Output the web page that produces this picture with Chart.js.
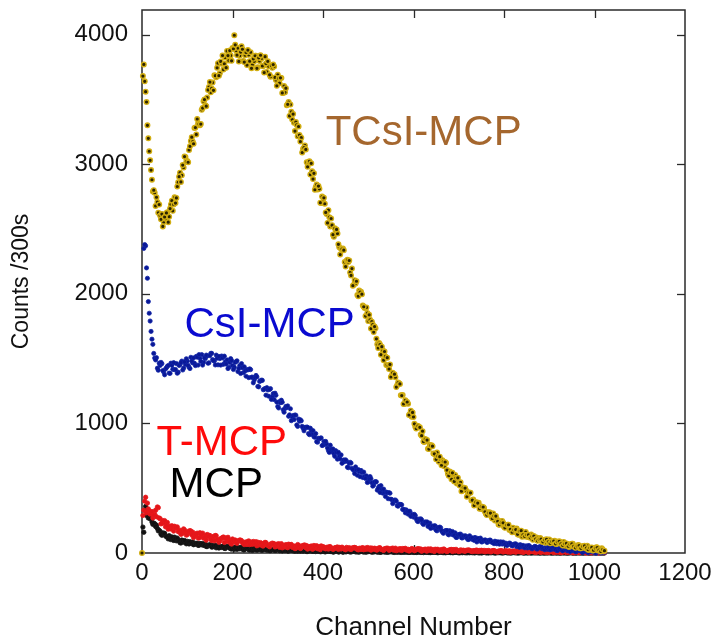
<!DOCTYPE html>
<html><head><meta charset="utf-8">
<script src="https://cdn.jsdelivr.net/npm/chart.js@4.4.1/dist/chart.umd.min.js"></script>
<style>html,body{margin:0;padding:0;background:#fff}canvas{display:block;background:#fff}</style>
</head><body>
<canvas id="c" width="720" height="643"></canvas>
<script>
// channel numbers sampled (every 4th channel, and the channels half-way between)
const channels = [
0,4,8,12,16,20,24,28,32,36,40,44,48,52,56,60,
64,68,72,76,80,84,88,92,96,100,104,108,112,116,120,124,
128,132,136,140,144,148,152,156,160,164,168,172,176,180,184,188,
192,196,200,204,208,212,216,220,224,228,232,236,240,244,248,252,
256,260,264,268,272,276,280,284,288,292,296,300,304,308,312,316,
320,324,328,332,336,340,344,348,352,356,360,364,368,372,376,380,
384,388,392,396,400,404,408,412,416,420,424,428,432,436,440,444,
448,452,456,460,464,468,472,476,480,484,488,492,496,500,504,508,
512,516,520,524,528,532,536,540,544,548,552,556,560,564,568,572,
576,580,584,588,592,596,600,604,608,612,616,620,624,628,632,636,
640,644,648,652,656,660,664,668,672,676,680,684,688,692,696,700,
704,708,712,716,720,724,728,732,736,740,744,748,752,756,760,764,
768,772,776,780,784,788,792,796,800,804,808,812,816,820,824,828,
832,836,840,844,848,852,856,860,864,868,872,876,880,884,888,892,
896,900,904,908,912,916,920,924,928,932,936,940,944,948,952,956,
960,964,968,972,976,980,984,988,992,996,1000,1004,1008,1012,1016,1020];

const channelsMid = [
2,6,10,14,18,22,26,30,34,38,42,46,50,54,58,62,
66,70,74,78,82,86,90,94,98,102,106,110,114,118,122,126,
130,134,138,142,146,150,154,158,162,166,170,174,178,182,186,190,
194,198,202,206,210,214,218,222,226,230,234,238,242,246,250,254,
258,262,266,270,274,278,282,286,290,294,298,302,306,310,314,318,
322,326,330,334,338,342,346,350,354,358,362,366,370,374,378,382,
386,390,394,398,402,406,410,414,418,422,426,430,434,438,442,446,
450,454,458,462,466,470,474,478,482,486,490,494,498,502,506,510,
514,518,522,526,530,534,538,542,546,550,554,558,562,566,570,574,
578,582,586,590,594,598,602,606,610,614,618,622,626,630,634,638,
642,646,650,654,658,662,666,670,674,678,682,686,690,694,698,702,
706,710,714,718,722,726,730,734,738,742,746,750,754,758,762,766,
770,774,778,782,786,790,794,798,802,806,810,814,818,822,826,830,
834,838,842,846,850,854,858,862,866,870,874,878,882,886,890,894,
898,902,906,910,914,918,922,926,930,934,938,942,946,950,954,958,
962,966,970,974,978,982,986,990,994,998,1002,1006,1010,1014,1018,1022];

// TCsI-MCP counts
const tcsiMcp = [
0,3770,3560,3300,3100,2955,2790,2780,2745,2625,2605,2615,2555,2580,2630,2595,
2690,2640,2745,2740,2860,2935,2915,2975,3055,3025,3110,3180,3175,3280,3230,3315,
3300,3420,3485,3455,3515,3595,3555,3630,3686,3672,3780,3702,3776,3730,3824,3874,
3800,3839,3897,3995,3877,3896,3837,3910,3797,3841,3765,3844,3864,3770,3794,3837,
3748,3797,3816,3757,3830,3712,3756,3675,3744,3754,3650,3690,3625,3665,3550,3555,
3455,3480,3460,3345,3320,3325,3215,3225,3205,3120,3145,3015,3015,2920,2945,2930,
2825,2805,2810,2700,2710,2695,2615,2645,2520,2530,2440,2475,2465,2360,2345,2350,
2245,2255,2245,2165,2195,2070,2080,1990,2025,2015,1910,1890,1895,1790,1800,1785,
1705,1735,1610,1620,1530,1565,1555,1450,1445,1455,1370,1372,1356,1295,1310,1217,
1219,1150,1164,1152,1072,1051,1050,975,982,971,915,940,857,864,805,834,
832,767,761,775,705,722,716,670,695,612,629,570,604,602,537,536,
545,480,495,485,447,465,405,413,370,390,387,343,337,348,302,315,
315,282,305,250,263,220,245,247,203,207,218,177,190,195,162,190,
140,158,125,155,162,123,127,143,102,118,119,100,115,86,98,79,
98,104,80,83,94,69,81,85,69,85,55,66,47,65,71,47,
50,61,37,49,53,37,55,26,38,19,38,44,20,25,36,13];
const tcsiMcpMid = [
3680,3640,3480,3200,3030,2880,2800,2678,2708,2689,2575,2520,2593,2624,2553,2658,
2719,2690,2700,2828,2904,2863,2993,3059,3020,3015,3138,3209,3158,3283,3349,3310,
3310,3433,3499,3448,3573,3634,3585,3570,3683,3744,3683,3793,3839,3775,3745,3838,
3877,3798,3891,3921,3842,3793,3865,3887,3788,3863,3881,3795,3740,3813,3837,3740,
3821,3841,3758,3707,3778,3794,3690,3761,3769,3670,3605,3663,3667,3550,3603,3587,
3462,3373,3405,3387,3256,3303,3291,3175,3090,3128,3114,2980,3023,3007,2885,2803,
2843,2831,2703,2751,2741,2628,2547,2591,2581,2456,2505,2497,2382,2303,2345,2337,
2210,2263,2257,2142,2063,2105,2097,1982,2013,1997,1900,1828,1852,1838,1732,1763,
1747,1653,1582,1608,1592,1488,1517,1507,1420,1358,1390,1380,1280,1315,1305,1215,
1150,1178,1165,1065,1097,1085,997,960,980,970,905,860,879,871,802,828,
824,765,723,747,743,677,706,702,640,597,622,619,552,580,580,520,
477,505,501,434,466,464,408,367,392,385,342,359,355,318,293,309,
308,267,286,285,245,218,234,233,194,216,218,183,160,179,181,144,
169,172,141,128,141,140,117,129,131,108,94,105,107,86,102,106,
87,75,89,92,71,86,90,71,58,71,74,52,67,71,52,40,
54,57,36,52,56,37,25,40,43,22,38,42,23,12,27,18];

// CsI-MCP counts
const csiMcp = [
null,2350,2370,2120,1850,1710,1610,1504,1507,1410,1447,1461,1396,1420,1440,1388,
1465,1417,1414,1462,1395,1452,1481,1426,1455,1480,1433,1510,1467,1464,1517,1450,
1502,1531,1471,1500,1520,1468,1540,1492,1482,1527,1452,1500,1520,1456,1475,1490,
1433,1500,1447,1434,1477,1400,1447,1461,1391,1405,1415,1353,1415,1357,1334,1370,
1285,1324,1334,1260,1270,1276,1210,1268,1206,1184,1217,1130,1169,1179,1105,1115,
1121,1055,1113,1051,1029,1063,977,1017,1020,963,969,972,921,963,915,897,
921,855,882,888,832,838,841,790,832,784,766,790,724,751,757,700,
706,709,658,700,654,638,664,600,629,637,582,590,595,548,590,542,
525,550,485,514,520,462,468,470,419,461,413,395,409,365,376,375,
336,335,333,300,322,290,277,289,248,262,264,229,233,235,205,231,
203,194,209,171,189,195,163,169,173,145,172,146,139,156,120,139,
146,116,124,130,104,133,108,102,120,85,106,115,86,95,98,83,
99,85,81,91,71,82,86,69,73,76,61,77,63,59,69,49,
60,64,47,51,54,39,56,43,40,51,32,44,49,33,38,42,
28,45,32,29,40,21,33,38,22,27,31,17,34,21,18,29,
10,22,27,11,16,20,6,23,11,8,20,1,14,19,4,9];
const csiMcpMid = [
null,2380,2200,1940,1790,1650,1540,1490,1426,1465,1471,1408,1375,1429,1447,1386,
1448,1469,1416,1387,1447,1469,1412,1475,1499,1448,1423,1481,1505,1446,1511,1531,
1478,1450,1507,1527,1464,1523,1541,1485,1451,1503,1517,1450,1505,1519,1458,1423,
1471,1485,1416,1471,1483,1424,1385,1429,1437,1364,1413,1421,1356,1313,1353,1359,
1282,1328,1332,1263,1218,1258,1262,1185,1230,1233,1164,1119,1159,1163,1086,1131,
1135,1066,1021,1061,1065,988,1034,1028,977,943,969,970,913,943,944,893,
859,885,886,829,860,861,810,776,802,803,746,776,777,726,692,718,
719,662,692,694,645,613,641,644,589,621,624,575,544,572,573,516,
548,549,500,467,492,493,436,465,466,415,381,407,401,361,375,371,
335,310,323,321,283,299,298,264,242,256,256,220,240,240,210,190,
208,210,176,196,200,170,152,170,174,140,162,166,138,120,140,144,
118,132,133,116,104,116,117,98,110,113,96,86,98,101,82,96,
99,82,72,84,87,68,82,85,68,58,70,73,54,68,71,54,
44,56,59,40,54,57,41,32,45,49,31,46,50,34,25,38,
42,24,39,43,27,18,31,35,17,32,36,20,11,24,28,10,
25,29,13,4,17,21,3,19,23,8,0,13,17,0,15,5];

// T-MCP counts
const tMcp = [
null,330,430,385,325,305,270,300,280,350,265,229,236,202,235,201,
185,201,206,195,165,176,148,186,156,143,161,169,161,132,144,117,
156,127,115,134,143,136,107,120,94,133,105,94,114,123,116,88,
101,75,108,88,80,93,100,95,75,84,66,93,74,67,80,87,
83,63,73,54,82,63,55,69,76,72,52,62,44,72,53,46,
61,68,64,44,54,36,65,46,39,53,61,57,37,48,30,58,
40,33,48,55,48,35,42,30,49,36,32,41,46,43,31,38,
29,43,33,30,38,41,40,30,36,27,41,31,28,36,39,38,
28,33,24,39,29,25,33,37,36,25,31,22,37,26,23,31,
34,33,23,29,19,34,24,21,28,32,31,20,26,17,31,21,
18,26,29,28,18,24,14,29,19,16,23,27,26,15,21,12,
24,17,15,20,22,21,15,18,13,22,15,13,18,20,18,13,
16,10,19,13,11,15,17,16,11,14,8,17,11,9,14,15,
14,9,12,7,16,9,7,12,14,13,8,11,6,15,8,6,
11,13,12,7,10,5,13,7,5,10,12,11,6,9,3,12,
6,4,9,11,10,4,7,2,11,5,3,8,9,8,3,6];
const tMcpMid = [
290,400,310,340,300,320,290,330,355,270,225,249,250,210,184,207,
210,169,196,201,166,145,171,177,138,167,173,140,119,147,153,116,
145,153,118,99,127,135,97,128,135,102,83,111,119,82,113,121,
88,69,95,100,75,94,99,79,66,83,89,65,84,89,69,56,
75,80,56,76,80,60,48,65,72,47,68,72,53,40,59,65,
41,62,66,47,34,53,60,35,56,61,41,30,48,54,31,51,
56,37,26,44,46,32,45,48,35,28,40,43,28,41,45,33,
25,37,41,27,39,43,31,24,36,39,25,38,42,29,22,34,
37,23,36,40,27,20,32,36,21,34,38,26,18,30,34,19,
32,36,24,16,28,32,18,30,34,22,14,26,30,15,28,32,
20,12,24,28,14,26,30,18,11,22,26,12,25,28,16,13,
20,22,13,21,23,15,11,18,21,11,19,21,14,9,16,19,
9,17,19,12,7,14,17,8,16,17,10,6,13,16,6,14,
16,9,5,12,14,5,13,15,8,4,11,14,5,12,14,7,
3,10,13,4,12,14,6,2,9,12,3,11,13,6,1,8,
11,2,10,12,5,0,7,10,1,9,11,4,0,6,9,3];

// MCP counts
const mcp = [
null,160,360,300,275,267,221,226,215,171,167,137,151,132,123,134,
103,118,122,94,101,80,100,85,80,90,70,81,85,67,72,59,
73,63,60,69,50,61,65,47,53,40,55,45,43,53,35,46,
51,34,40,28,43,34,32,42,25,37,42,25,32,20,35,28,
26,33,22,29,32,22,26,19,28,23,21,28,18,24,28,18,
22,15,25,19,18,25,14,21,25,14,19,12,21,16,15,21,
11,18,22,11,16,9,18,13,12,19,8,15,19,9,13,6,
16,11,14,9,12,14,9,11,8,12,10,12,8,11,13,8,
10,12,7,10,6,11,9,10,7,10,12,7,9,6,10,8,
9,6,9,11,6,8,5,9,7,8,5,8,10,5,7,4,
8,6,7,4,7,9,4,6,3,7,5,6,3,6,8,3,
5,2,6,4,5,2,5,7,2,4,1,5,3,4,2,5,
6,2,4,1,5,3,4,2,4,6,1,3,1,4,3,4,
1,3,5,1,3,0,4,2,3,1,3,5,0,2,0,3,
2,3,0,2,4,0,2,0,3,1,2,0,2,4,0,2,
0,3,1,2,0,2,3,0,1,0,2,1,2,0,2,1];
const mcpMid = [
200,330,290,270,265,240,230,205,190,175,145,155,152,126,109,123,
124,97,113,115,92,77,93,96,71,85,87,73,64,74,76,60,
71,73,59,50,60,62,46,57,60,47,38,48,52,36,48,51,
37,30,40,44,28,41,43,31,24,34,38,23,35,39,26,22,
29,32,22,29,31,24,19,25,28,19,26,28,20,16,23,26,
16,24,25,18,14,21,23,14,22,23,16,12,18,21,12,19,
21,14,10,16,19,10,17,19,12,8,14,17,8,16,17,10,
9,13,10,8,12,13,9,8,11,12,8,7,11,12,9,7,
10,11,8,6,10,10,7,6,9,10,7,5,9,9,6,5,
8,9,6,4,8,8,5,4,7,8,5,3,7,7,4,3,
6,7,4,2,6,6,3,2,5,6,3,2,5,5,3,1,
5,5,2,1,4,5,2,1,4,4,2,0,4,4,1,0,
3,4,1,0,3,3,1,0,3,3,1,0,2,3,1,0,
2,3,0,0,2,2,0,0,2,2,0,0,1,2,0,0,
1,2,0,0,1,1,0,0,1,1,0,0,1,1,0,0,
1,1,0,0,1,1,0,0,1,1,0,0,1,1,0,0];

const seriesNames = ['TCsI-MCP', 'CsI-MCP', 'T-MCP', 'MCP'];
const xTickValues = [0, 200, 400, 600, 800, 1000, 1200];
const yTickValues = [0, 1000, 2000, 3000, 4000];

const FONT = "'Liberation Sans', Arial, Helvetica, sans-serif";

function toPoints(xs, vals) {
  const pts = [];
  xs.forEach((c, i) => { if (vals[i] !== null && vals[i] !== undefined) pts.push({x: c, y: vals[i]}); });
  return pts;
}
function series(a, b) { return toPoints(channels, a).concat(toPoints(channelsMid, b)); }

const framePlugin = {
  id: 'frame',
  beforeDatasetsDraw(chart) {
    const {ctx, chartArea: a, scales: {x, y}} = chart;
    ctx.save();
    ctx.strokeStyle = '#2a2a2a';
    ctx.lineWidth = 1.5;
    ctx.strokeRect(a.left, a.top, a.right - a.left, a.bottom - a.top);
    ctx.lineWidth = 1.3;
    const L = 8;
    const seg = (x1, y1, x2, y2) => { ctx.beginPath(); ctx.moveTo(x1, y1); ctx.lineTo(x2, y2); ctx.stroke(); };
    x.ticks.forEach(t => {
      const px = Math.round(x.getPixelForValue(t.value)) + 0.5;
      if (px <= a.left + 2 || px >= a.right - 2) return;
      seg(px, a.bottom, px, a.bottom - L);
      seg(px, a.top, px, a.top + L);
    });
    y.ticks.forEach(t => {
      const py = Math.round(y.getPixelForValue(t.value)) + 0.5;
      if (py >= a.bottom - 2 || py <= a.top + 2) return;
      seg(a.left, py, a.left + L, py);
      seg(a.right, py, a.right - L, py);
    });
    ctx.restore();
  }
};

const textPlugin = {
  id: 'seriesText',
  afterDatasetsDraw(chart, args, opts) {
    const {ctx, scales: {x, y}} = chart;
    ctx.save();
    ctx.textAlign = 'left';
    ctx.textBaseline = 'alphabetic';
    opts.items.forEach(it => {
      ctx.font = `${it.size}px ${FONT}`;
      ctx.fillStyle = it.color;
      ctx.fillText(it.text, x.getPixelForValue(it.x), y.getPixelForValue(it.y));
    });
    ctx.restore();
  }
};

const pointStyle = (bg, border, r, bw) => ({
  showLine: false, pointRadius: r, pointBackgroundColor: bg, pointBorderColor: border,
  pointBorderWidth: bw, pointHoverRadius: r, clip: 6
});

new Chart(document.getElementById('c'), {
  type: 'scatter',
  data: {
    datasets: [
      Object.assign({label: seriesNames[0], data: series(tcsiMcp, tcsiMcpMid), order: 0}, pointStyle('#2b2300', '#d2ae12', 2.3, 1.4)),
      Object.assign({label: seriesNames[1], data: series(csiMcp, csiMcpMid), order: 1}, pointStyle('#0a1896', '#1226a8', 2.1, 0.8)),
      Object.assign({label: seriesNames[2], data: series(tMcp, tMcpMid), order: 2}, pointStyle('#e3161a', '#e8191c', 2.2, 0.8)),
      Object.assign({label: seriesNames[3], data: series(mcp, mcpMid), order: 3}, pointStyle('#111111', '#1a1a1a', 2.2, 0.8))
    ]
  },
  options: {
    responsive: false,
    animation: false,
    events: [],
    layout: {padding: {left: 0, right: 35, top: 10, bottom: 0}},
    plugins: {
      legend: {display: false},
      tooltip: {enabled: false},
      seriesText: {
        items: [
          {text: seriesNames[0], x: 406, y: 3150, color: '#a5672e', size: 42},
          {text: seriesNames[1], x: 94, y: 1667, color: '#0a0ad0', size: 42},
          {text: seriesNames[2], x: 32, y: 756, color: '#ff0a0a', size: 42},
          {text: seriesNames[3], x: 61, y: 432, color: '#000000', size: 42}
        ]
      }
    },
    scales: {
      x: {
        type: 'linear', position: 'bottom', min: 0, max: 1200,
        afterFit(s) { s.height = 90; s.paddingLeft = 0; s.paddingRight = 0; },
        afterBuildTicks(s) { s.ticks = xTickValues.map(v => ({value: v})); },
        grid: {display: false, drawTicks: false},
        border: {display: false},
        ticks: {padding: 6, color: '#111', font: {family: FONT, size: 24}, maxRotation: 0, autoSkip: false,
                callback: v => String(v)},
        title: {display: true, text: 'Channel Number', color: '#111', font: {family: FONT, size: 26}, padding: {top: 0, bottom: 0}}
      },
      y: {
        type: 'linear', position: 'left', min: 0, max: 4190,
        afterFit(s) { s.width = 142; s.paddingTop = 0; s.paddingBottom = 0; },
        afterBuildTicks(s) { s.ticks = yTickValues.map(v => ({value: v})); },
        grid: {display: false, drawTicks: false},
        border: {display: false},
        ticks: {padding: 14, color: '#111', font: {family: FONT, size: 24}, callback: v => String(v)},
        title: {display: true, text: 'Counts /300s', color: '#111', font: {family: FONT, size: 23}, padding: {top: 8, bottom: 0}}
      }
    }
  },
  plugins: [framePlugin, textPlugin]
});
</script>
</body></html>
